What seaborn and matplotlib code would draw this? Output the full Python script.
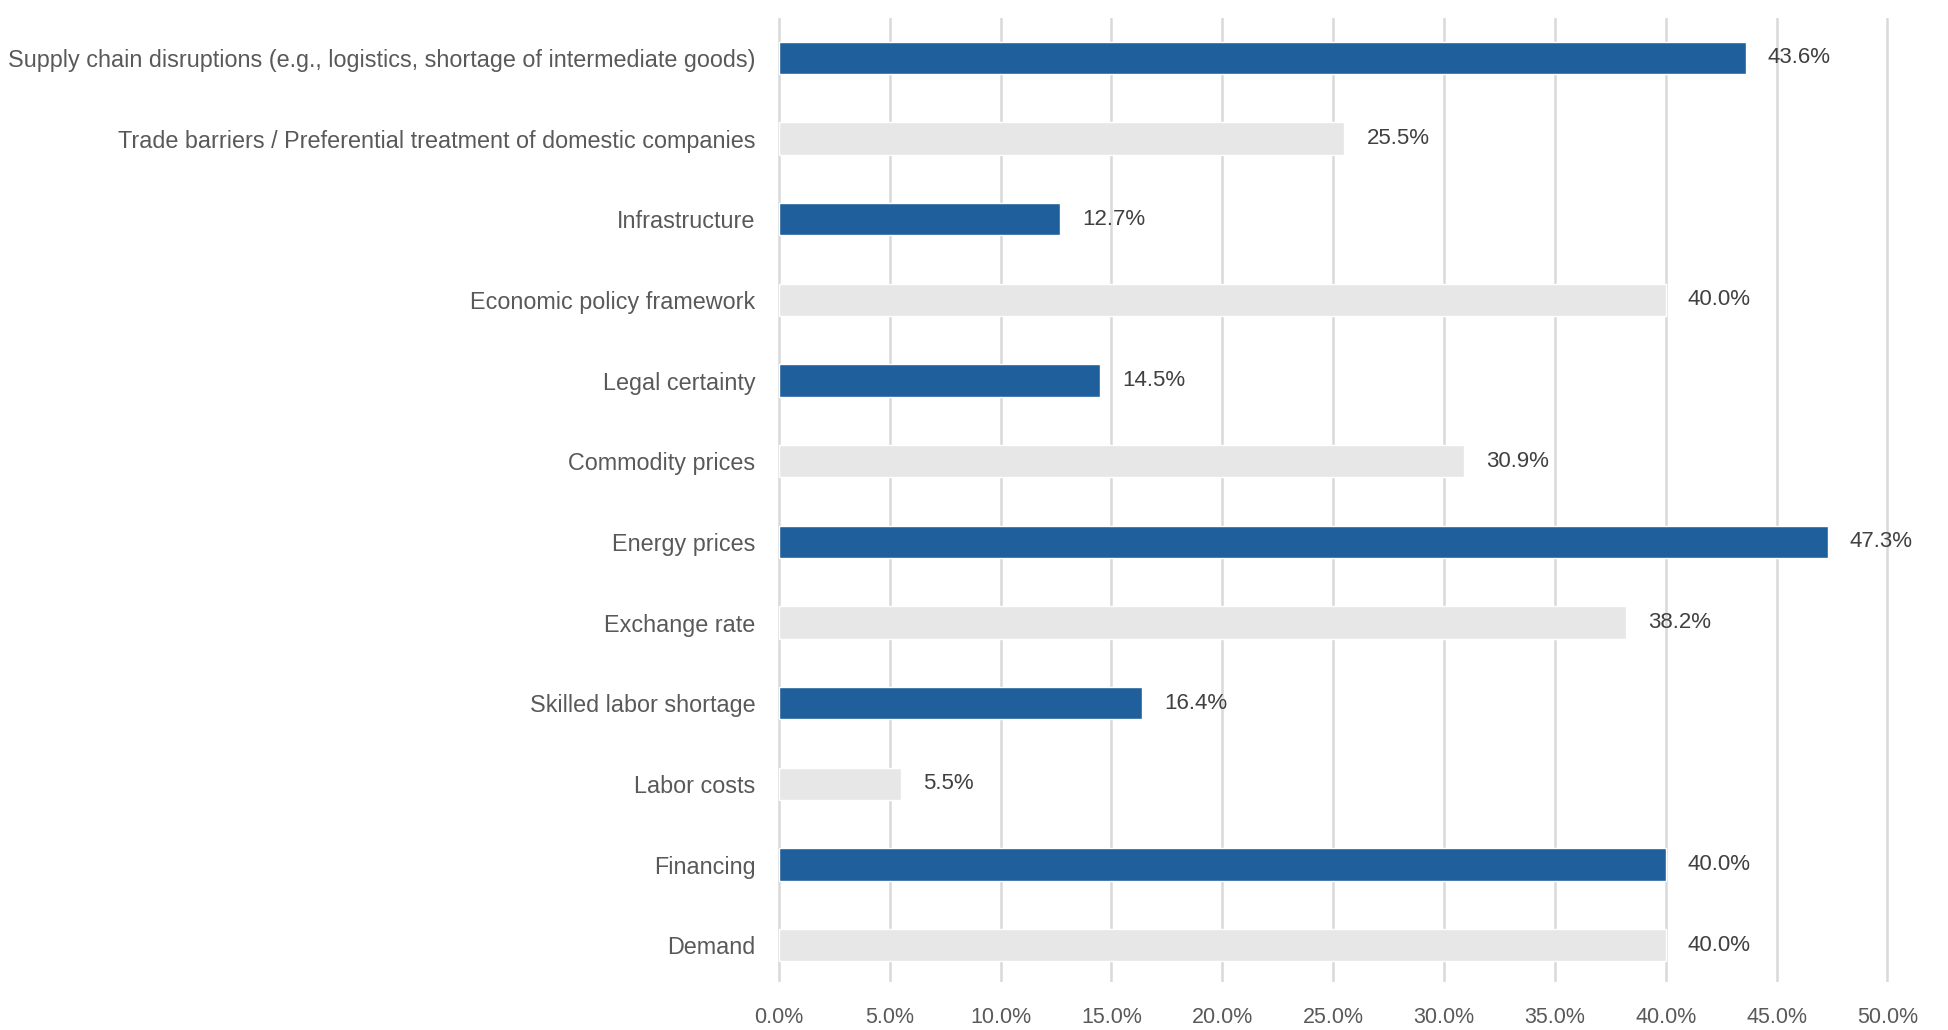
import matplotlib
matplotlib.use('Agg')
import matplotlib.pyplot as plt
import seaborn as sns
import pandas as pd
from matplotlib.ticker import FuncFormatter

categories = [
    'Supply chain disruptions (e.g., logistics, shortage of intermediate goods)',
    'Trade barriers / Preferential treatment of domestic companies',
    'Infrastructure',
    'Economic policy framework',
    'Legal certainty',
    'Commodity prices',
    'Energy prices',
    'Exchange rate',
    'Skilled labor shortage',
    'Labor costs',
    'Financing',
    'Demand',
]
values = [43.6, 25.5, 12.7, 40.0, 14.5, 30.9, 47.3, 38.2, 16.4, 5.5, 40.0, 40.0]
highlight = ['blue', 'grey'] * 6
x_ticks = [0, 5, 10, 15, 20, 25, 30, 35, 40, 45, 50]

BLUE = '#1F5F9B'
GREY = '#E7E7E7'
TEXT = '#595959'

df = pd.DataFrame({'category': categories, 'value': values, 'group': highlight})

sns.set_style('white')
plt.rcParams['font.family'] = ['Liberation Sans', 'DejaVu Sans']

fig, ax = plt.subplots(figsize=(19.49, 10.30), dpi=100)
fig.subplots_adjust(left=0.399, right=0.969, top=0.983, bottom=0.047)

sns.barplot(data=df, x='value', y='category', hue='group', palette={'blue': BLUE, 'grey': GREY},
            order=categories, dodge=False, width=0.4, saturation=1, legend=False, ax=ax, zorder=3)

for i, v in enumerate(values):
    ax.text(v + 1.0, i, f'{v:.1f}%', va='center', ha='left', fontsize=16, color='#404040', zorder=4)

ax.set_xlim(-0.05, 50.05)
ax.set_ylim(11.45, -0.5)
ax.set_xticks(x_ticks)
ax.xaxis.set_major_formatter(FuncFormatter(lambda x, _: f'{x:.1f}%'))
ax.grid(axis='x', color='#D9D9D9', linewidth=1.8, zorder=0)
ax.grid(axis='y', visible=False)
for s in ax.spines.values():
    s.set_visible(False)
ax.set_xlabel('')
ax.set_ylabel('')
ax.tick_params(axis='both', length=0, colors=TEXT)
ax.tick_params(axis='x', labelsize=15.5, pad=18)
ax.tick_params(axis='y', pad=16)
for lbl in ax.get_yticklabels():
    lbl.set_fontsize(16.8)
    lbl.set_color(TEXT)

fig.savefig('out.png', dpi=100)
